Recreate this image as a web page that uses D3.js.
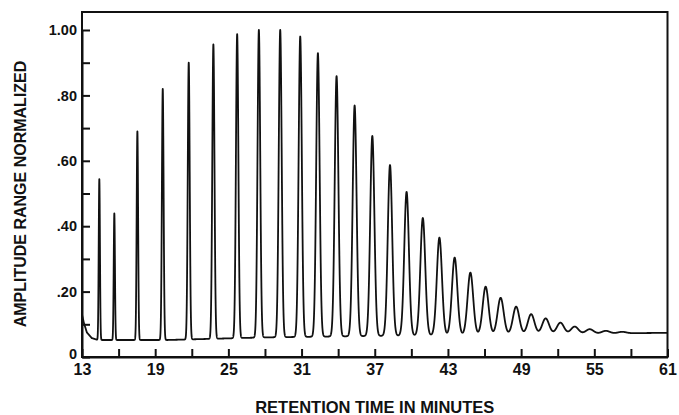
<!DOCTYPE html>
<html>
<head>
<meta charset="utf-8">
<script src="https://cdn.jsdelivr.net/npm/d3@7"></script>
<style>
  body { margin: 0; background: #fff; }
  text { font-family: "Liberation Sans", Arial, sans-serif; font-weight: bold; fill: #111; }
</style>
</head>
<body>
<script>
const w = 679;
const h = 415;
const margin = { top: 12, right: 11.5, bottom: 58, left: 82 };

// peak apex times (minutes), apex heights (normalized, incl. baseline), peak sigma (minutes)
const peakTimes = [14.42, 15.65, 17.54, 19.62, 21.75, 23.77, 25.72, 27.5, 29.25, 30.89,
  32.34, 33.87, 35.35, 36.8, 38.25, 39.61, 40.94, 42.3, 43.55, 44.84,
  46.09, 47.32, 48.59, 49.82, 51.01, 52.22, 53.39, 54.62, 55.94, 57.28];
const peakHeights = [0.544, 0.439, 0.69, 0.82, 0.90, 0.956, 0.987, 1.0, 1.0, 0.98,
  0.929, 0.859, 0.769, 0.676, 0.587, 0.505, 0.425, 0.365, 0.304, 0.258,
  0.215, 0.181, 0.154, 0.131, 0.118, 0.105, 0.093, 0.085, 0.08, 0.077];
const peakWidths = [0.05, 0.05, 0.06, 0.07, 0.08, 0.09, 0.1, 0.11, 0.12, 0.13,
  0.14, 0.15, 0.16, 0.17, 0.18, 0.19, 0.2, 0.21, 0.22, 0.23,
  0.24, 0.25, 0.26, 0.27, 0.28, 0.29, 0.3, 0.31, 0.32, 0.33];

// detector baseline
const baseTimes = [13, 13.15, 13.4, 13.8, 14.3, 20, 28, 36, 46, 61];
const baseValues = [0.13, 0.105, 0.075, 0.058, 0.052, 0.052, 0.06, 0.064, 0.068, 0.074];

const xTickValues = [13, 16, 19, 22, 25, 28, 31, 34, 37, 40, 43, 46, 49, 52, 55, 58, 61];
const xTickLabels = [13, 19, 25, 31, 37, 43, 49, 55, 61];
const yTickValues = [0, 0.1, 0.2, 0.3, 0.4, 0.5, 0.6, 0.7, 0.8, 0.9, 1.0];
const yTickLabels = [0, 0.2, 0.4, 0.6, 0.8, 1.0];

const svg = d3.select("body").append("svg").attr("width", w).attr("height", h);

const x = d3.scaleLinear().domain([13, 61]).range([margin.left, w - margin.right]);
const y = d3.scaleLinear().domain([0, 1]).range([h - margin.bottom, h - margin.bottom - 327]);

const baseline = d3.scaleLinear().domain(baseTimes).range(baseValues).clamp(true);

// build the trace: baseline plus each peak
const times = d3.range(13, 61.0001, 0.005).concat(peakTimes).sort((a, b) => a - b);
const trace = times.map((t) => {
  let v = baseline(t);
  peakTimes.forEach((p, i) => {
    const amp = peakHeights[i] - baseline(p);
    const z = (t - p) / peakWidths[i];
    if (Math.abs(z) < 8) v += amp * Math.exp(-0.5 * z * z);
  });
  return [t, v];
});

// frame
svg.append("rect")
  .attr("x", margin.left)
  .attr("y", margin.top)
  .attr("width", w - margin.right - margin.left)
  .attr("height", h - margin.bottom - margin.top)
  .attr("fill", "none")
  .attr("stroke", "#111")
  .attr("stroke-width", 2);

const xAxis = d3.axisBottom(x)
  .tickValues(xTickValues)
  .tickSizeInner(-8)
  .tickSizeOuter(0)
  .tickPadding(7)
  .tickFormat((d) => (xTickLabels.includes(d) ? d : ""));

const yAxis = d3.axisLeft(y)
  .tickValues(yTickValues)
  .tickSizeInner(-8)
  .tickSizeOuter(0)
  .tickPadding(5)
  .tickFormat((d) => {
    if (!yTickLabels.some((v) => Math.abs(v - d) < 1e-9)) return "";
    return d === 0 ? "0" : d3.format(".2f")(d).replace(/^0/, "");
  });

const gx = svg.append("g")
  .attr("transform", "translate(0," + (h - margin.bottom) + ")")
  .call(xAxis);
const gy = svg.append("g")
  .attr("transform", "translate(" + margin.left + ",0)")
  .call(yAxis);

[gx, gy].forEach((g) => {
  g.select(".domain").attr("stroke", "#111").attr("stroke-width", 2);
  g.selectAll(".tick line").attr("stroke", "#111").attr("stroke-width", 2);
  g.selectAll(".tick text").attr("fill", "#111").style("font-family", "'Liberation Sans', Arial, sans-serif").style("font-weight", "bold");
});
gx.selectAll(".tick text").style("font-size", "16px");
gy.selectAll(".tick text").style("font-size", "14.5px");
// lift the "0" a little so it clears the "13" below it
gy.selectAll(".tick text").filter((d) => d === 0).attr("dy", "0.1em");

// trace
const line = d3.line().x((d) => x(d[0])).y((d) => y(d[1]));
svg.append("path")
  .datum(trace)
  .attr("fill", "none")
  .attr("stroke", "#111")
  .attr("stroke-width", 1.8)
  .attr("stroke-linejoin", "round")
  .attr("d", line);

// axis titles
svg.append("text")
  .attr("x", (margin.left + w - margin.right) / 2)
  .attr("y", 413)
  .attr("text-anchor", "middle")
  .style("font-size", "16.5px")
  .text("RETENTION TIME IN MINUTES");

svg.append("text")
  .attr("transform", "translate(26,194) rotate(-90)")
  .attr("text-anchor", "middle")
  .style("font-size", "16px")
  .text("AMPLITUDE RANGE NORMALIZED");
</script>
</body>
</html>
